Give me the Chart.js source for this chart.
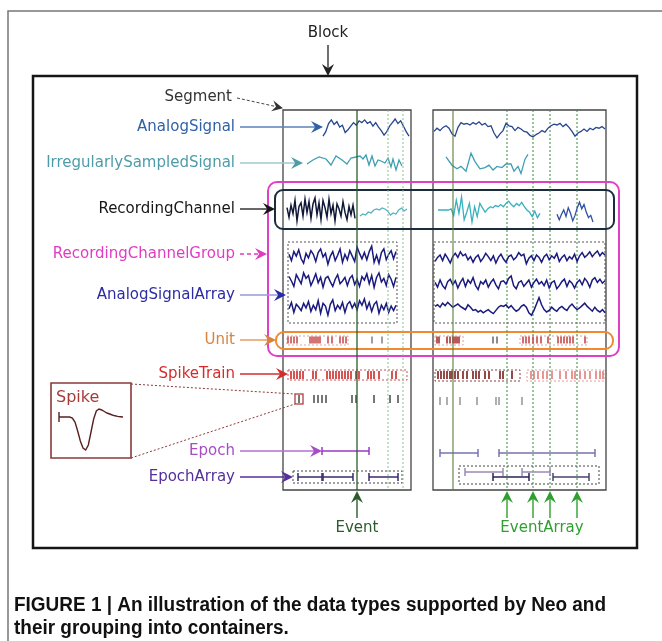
<!DOCTYPE html>
<html>
<head>
<meta charset="utf-8">
<script src="https://cdn.jsdelivr.net/npm/chart.js@4.4.0/dist/chart.umd.min.js"></script>
<style>
  html, body { margin: 0; padding: 0; background: #fff; }
  canvas { display: block; }
</style>
</head>
<body>
<canvas id="neo" width="662" height="641"></canvas>
<script>
// ---- data (times in seconds from the start of each segment, signal values in arbitrary units) ----
var labels = ['AnalogSignal', 'IrregularlySampledSignal', 'RecordingChannel', 'RecordingChannelGroup',
  'AnalogSignalArray', 'Unit', 'SpikeTrain', 'Epoch', 'EpochArray'];

var analogL = [-0.9,-0.4,0.5,0.9,0.4,0.7,0.1,0.3,-0.5,-0.2,0.2,0.6,0.3,0.8,0.6,0.9,0.5,0.7,0.2,0.6,0.1,-0.3,-0.8,-0.4,0.2,0.6,1.0,0.5,0.8,0.2,-0.4,-0.9];
var analogR = [-0.3,0.1,-0.2,0.2,0.4,0.1,-0.6,-0.9,0.2,0.8,0.6,0.7,0.5,0.8,0.6,0.9,0.5,0.7,0.3,0.4,-0.5,-1.1,-0.6,-0.2,0.7,0.4,0.3,-0.2,0.2,0.0,-0.3,-0.4,-0.8,-1.0,-0.7,-0.5,-0.2,-0.4,0.1,0.4,0.6,0.5,0.7,0.3,0.6,0.2,-0.3,-0.9,-0.5,-0.3,0.0,-0.3,0.1,-0.1,0.2,0.1,0.3,0.0];

var irregTimesL = [2.4,3.0,3.6,4.3,4.8,5.3,5.9,6.4,6.8,7.3,7.7,8.0,8.3,8.6,8.9,9.2,9.5,9.8,10.2,10.5,10.8,11.0,11.3,11.6,11.9];
var irregValsL = [-0.3,0.1,0.4,0.2,-0.4,0.5,0.1,-0.3,0.3,0.4,0.5,0.2,0.6,-0.4,0.5,-0.5,0.1,0.0,-0.2,0.3,-0.6,0.2,-0.9,0.1,-0.5];
var irregTimesR = [1.3,1.9,2.4,2.8,3.3,3.8,4.2,4.7,5.2,5.6,6.0,6.4,6.9,7.3,7.8,8.1,8.5,8.8,9.2,9.5];
var irregValsR = [0.6,-0.1,-0.4,-0.2,-0.6,0.9,0.2,-0.4,-0.3,-0.1,-0.5,-0.2,-0.3,0.0,0.0,-0.6,-0.2,-0.8,0.4,0.8];

var chanL1 = [0.2,-0.6,0.4,-0.3,0.8,-0.9,0.3,0.6,-0.5,0.9,-0.2,0.7,-0.7,0.5,1.0,-0.4,0.6,-0.8,0.8,0.2,-0.6,0.9,-0.3,0.4,-0.9,0.5,0.1,-0.5,0.7,-0.2,-0.8,0.3,-0.4,0.4,-0.7];
var chanL2 = [-0.4,-0.2,-0.3,0.0,-0.1,0.2,0.3,0.2,0.4,0.3,0.1,-0.3,-0.1,-0.2,0.2,0.4,0.1,0.3];
var chanR1 = [0,0,0,0,0,0.1,-0.5,0.9,-0.3,1.2,-0.9,-0.2,0.6,-1.1,0.3,-0.6,0.6,0.2,-0.2,0.1,0.3,0.2,0.4,0.3,0.5,0.3,0.6,0.8,0.5,0.3,0.6,0.4,0.7,0.3,0.0,-0.2,-0.6,-0.1,-0.7,-0.3];
var chanR2 = [-0.3,-0.8,-0.3,0.1,-0.5,0.3,-0.2,-0.9,-0.4,0.3,0.8,0.2,0.6,-0.1,-0.6,-0.4,-1.0];

var arrayL1 = [0.3,-0.4,0.6,0.1,0.8,-0.2,-0.7,0.4,-0.1,0.7,0.3,-0.5,0.5,0.9,0.0,0.4,-0.8,0.1,0.6,-0.4,0.2,0.9,-0.6,0.3,-0.3,0.7,0.1,-0.5,1.1,0.4,-0.2,0.5,-0.3,0.6,1.2,-0.6,0.2,-0.7,0.5,0.9,-0.3,0.3,0.7,-0.2,0.6];
var arrayL2 = [0.5,0.0,-0.6,0.7,0.2,-0.3,0.9,0.3,0.6,-0.5,0.1,0.8,-0.2,0.4,-0.7,0.3,0.5,-0.1,-0.6,0.2,0.7,-0.3,0.0,0.4,-0.5,0.3,0.6,-0.4,0.2,-0.6,0.5,0.1,0.8,-0.3,0.6,-0.7,0.4,0.9,-0.1,0.3,-0.5,0.7,0.2,-0.6,0.4];
var arrayL3 = [-0.2,0.5,-0.6,0.3,0.0,-0.4,0.4,-0.1,0.6,-0.5,0.2,-0.3,0.7,-0.7,0.4,0.1,-0.9,0.3,0.8,-0.4,0.2,-0.2,0.5,-0.6,0.3,0.6,-0.1,0.4,-0.3,0.7,0.2,0.9,-0.2,0.5,-0.5,0.3,0.6,-0.7,0.2,-0.3,0.4,-0.6,0.1,-0.4,0.2];
var arrayR1 = [-0.3,0.2,0.5,-0.2,0.6,0.1,-0.5,0.3,0.7,0.2,0.9,0.4,0.6,-0.1,0.3,-0.4,0.2,0.5,-0.3,0.1,0.7,0.3,-0.2,0.4,-0.5,0.2,0.6,0.0,-0.4,0.3,0.5,-0.1,0.2,0.8,0.4,0.6,-0.6,0.1,0.4,-0.2,0.5,0.2,-0.4,0.3,0.6,-0.1,0.4,0.1,0.7,-0.3,0.2,0.5,-0.2,0.3,0.0,0.6,-0.3,0.4,0.8,0.2,0.5,0.9,0.3,0.7,1.0,0.4,0.8,0.5];
var arrayR2 = [0.2,-0.4,0.5,-0.2,-0.6,0.3,0.6,-0.1,0.4,-0.5,0.2,0.7,-0.3,0.5,0.1,0.8,-0.2,-0.7,0.3,0.0,0.5,-0.4,0.2,0.6,-0.1,-0.6,0.3,0.4,0.0,0.7,1.0,-0.2,-0.6,0.2,0.4,-0.3,0.1,0.5,-0.4,0.2,0.6,0.0,0.3,-0.2,0.5,-0.5,0.2,0.4,-0.6,-0.2,0.3,0.6,-0.3,0.4,0.1,-0.5,0.2,0.5,-0.1,0.7,0.3,-0.4,0.5,0.8,0.2,0.6,0.1,0.4];
var arrayR3 = [0.2,0.4,0.1,0.6,0.3,0.7,0.4,0.1,0.3,0.5,0.2,0.0,-0.2,0.4,0.1,-0.3,-0.2,-0.5,-0.3,-0.6,-0.4,-0.2,-0.5,-0.7,-0.3,0.1,0.3,0.2,0.4,0.0,0.3,-0.1,-0.4,-0.2,0.2,0.4,0.1,-0.6,-0.9,-0.3,0.5,1.3,0.4,-0.2,-0.5,-0.3,0.1,-0.2,-0.4,0.0,0.2,-0.1,-0.3,0.2,0.5,0.1,-0.2,0.0,0.3,0.6,0.2,-0.1,-0.4,0.1,-0.3,-0.5,-0.2,-0.6];

var unitBoxedL = [0.5,0.8,1.1,1.4,2.7,2.9,3.1,3.3,3.5,3.7,4.5,4.9,5.7,6.0,6.3];
var unitLooseL = [8.9,9.9];
var unitBoxedR1 = [0.4,0.6,1.4,1.7,2.0,2.2,2.4,2.6];
var unitLooseR = [6.0,6.4];
var unitBoxedR2 = [9.0,9.3,9.6,10.0,10.4,10.8,11.5,12.5,12.8,13.1,13.4,13.7,14.0,15.2];

var trainL = [0.8,1.1,1.4,1.7,2.0,3.0,3.3,4.4,4.7,5.0,5.3,5.6,5.9,6.2,6.5,6.8,7.3,7.6,8.5,8.8,9.1,9.6,10.9,11.3];
var trainR1 = [0.5,0.8,1.1,1.4,1.7,1.9,2.2,2.5,3.0,3.4,4.0,4.3,4.6,5.2,5.6,6.7,7.0,7.9];
var trainR2 = [9.8,10.1,10.5,11.0,11.4,11.9,12.7,13.3,13.9,14.2,14.7,15.2,15.7,16.3,16.7,17.0];

var spikesL = [3.1,3.5,3.9,4.3,6.9,7.3,9.1,10.7,11.5];
var spikeShown = 1.6;
var spikesR = [0.7,1.4,2.7,4.4,6.3,6.6,8.9];
var spikeWave = [0,0,0,0,0,-0.1,-0.5,-1.4,-2.4,-3.1,-3.3,-2.8,-1.5,-0.2,0.6,0.8,0.7,0.55,0.4,0.3,0.2,0.12,0.06,0.03,0.0];

var epochL = [3.9, 8.6];
var epochR = [[0.7, 4.5], [6.6, 16.2]];
var epochArrayL = [[1.5, 3.9], [4.0, 7.0], [8.6, 11.5]];
var epochArrayR = [[3.2, 7.0], [6.0, 9.6], [8.9, 11.7], [12.0, 15.6]];

var eventL = 7.4;
var markersL = [10.5, 12.0];
var markerR = 2.0;
var eventArrayR = [7.4, 10.0, 11.7, 14.4];

// ---- layout ----
var PX_PER_S = 10;
var SEG_L = 283, SEG_R = 433;
var SEG_TOP = 110, SEG_BOT = 490;

function regular(vals, x0, x1, yc, amp) {
  return vals.map(function (v, i) {
    return { x: x0 + i * (x1 - x0) / (vals.length - 1), y: yc - v * amp };
  });
}
function irregular(times, vals, seg, yc, amp) {
  return times.map(function (t, i) { return { x: seg + t * PX_PER_S, y: yc - vals[i] * amp }; });
}
function atTimes(times, seg, y) {
  return times.map(function (t) { return { x: seg + t * PX_PER_S, y: y }; });
}
function trace(data, color, width) {
  return { data: data, showLine: true, borderColor: color, borderWidth: width || 1.3, pointRadius: 0, tension: 0 };
}
function ticks(data, color, r) {
  return { data: data, showLine: false, pointStyle: 'line', rotation: 90, pointRadius: r,
    pointBorderColor: color, pointBorderWidth: 1.6, borderColor: color };
}
function span(pair, seg, y, color) {
  return { data: atTimes(pair, seg, y), showLine: true, borderColor: color, borderWidth: 1.5,
    pointStyle: 'line', rotation: 90, pointRadius: 4, pointBorderColor: color, pointBorderWidth: 1.5 };
}
function vline(t, seg, color, dash, width) {
  return { data: [{ x: seg + t * PX_PER_S, y: SEG_TOP }, { x: seg + t * PX_PER_S, y: SEG_BOT }], showLine: true,
    borderColor: color, borderWidth: width || 1, borderDash: dash || [], pointRadius: 0 };
}

var datasets = [
  vline(eventL, SEG_L, '#2c5c2c', [], 1.3),
  vline(markersL[0], SEG_L, '#86c486', [2, 2]),
  vline(markersL[1], SEG_L, '#86c486', [2, 2]),
  vline(markerR, SEG_R, '#5d7d3d', [], 1.1),
  trace(regular(analogL, 323, 409, 128, 9), '#26468e'),
  trace(regular(analogR, 434, 605, 129, 8), '#26468e'),
  trace(irregular(irregTimesL, irregValsL, SEG_L, 161, 10), '#3f9fb2'),
  trace(irregular(irregTimesR, irregValsR, SEG_R, 164, 12), '#3f9fb2'),
  trace(regular(chanL1, 287, 355, 210, 12), '#101838', 1.5),
  trace(regular(chanL2, 360, 407, 212, 10), '#56b2c2'),
  trace(regular(chanR1, 438, 540, 210, 11), '#38b0c0'),
  trace(regular(chanR2, 557, 593, 211, 11), '#3050a4'),
  trace(regular(arrayL1, 289, 396, 257, 9), '#1a1a7e', 1.5),
  trace(regular(arrayL2, 289, 396, 281, 9), '#1a1a7e', 1.5),
  trace(regular(arrayL3, 289, 396, 307, 9), '#1a1a7e', 1.5),
  trace(regular(arrayR1, 435, 605, 259, 8), '#1a1a7e', 1.5),
  trace(regular(arrayR2, 435, 605, 284, 8), '#1a1a7e', 1.5),
  trace(regular(arrayR3, 435, 605, 308, 8), '#1a1a7e', 1.5),
  ticks(atTimes(unitBoxedL, SEG_L, 340), '#c85050', 3.5),
  ticks(atTimes(unitLooseL, SEG_L, 340), '#8a8a8a', 3.5),
  ticks(atTimes(unitBoxedR1, SEG_R, 340), '#a83030', 3.5),
  ticks(atTimes(unitLooseR, SEG_R, 340), '#707070', 3.5),
  ticks(atTimes(unitBoxedR2, SEG_R, 340), '#c84848', 3.5),
  ticks(atTimes(trainL, SEG_L, 375), '#cc2a2a', 4),
  ticks(atTimes(trainR1, SEG_R, 375), '#7a1c1c', 4),
  ticks(atTimes(trainR2, SEG_R, 375), '#e27a7a', 4),
  ticks(atTimes(spikesL.concat([spikeShown]), SEG_L, 399), '#555555', 4),
  ticks(atTimes(spikesR, SEG_R, 401), '#9a9a9a', 4),
  trace(regular(spikeWave, 59, 123, 417, 10), '#5a2020', 1.4),
  span(epochL, SEG_L, 451, '#9a38c4'),
  span(epochR[0], SEG_R, 453, '#7474b4'),
  span(epochR[1], SEG_R, 453, '#7a70aa'),
  span(epochArrayL[0], SEG_L, 477, '#3a2a6a'),
  span(epochArrayL[1], SEG_L, 477, '#3a2a6a'),
  span(epochArrayL[2], SEG_L, 477, '#3a2a6a'),
  span(epochArrayR[0], SEG_R, 472, '#9a8ab4'),
  span(epochArrayR[1], SEG_R, 477, '#2a2250'),
  span(epochArrayR[2], SEG_R, 472, '#9a8ab4'),
  span(epochArrayR[3], SEG_R, 477, '#4a4070')
];
eventArrayR.forEach(function (t) { datasets.push(vline(t, SEG_R, '#3a8a3a', [2, 2])); });

var labelStyle = [
  { y: 127, tip: 323, text: '#2f62a6', line: '#5a82b8' },
  { y: 163, tip: 303, text: '#4f9ca8', line: '#9cc8d0' },
  { y: 209, tip: 275, text: '#161616', line: '#161616' },
  { y: 254, tip: 267, text: '#e03cc0', line: '#e03cc0', dash: true },
  { y: 295, tip: 286, text: '#2b2ba6', line: '#9a9ad8' },
  { y: 340, tip: 276, text: '#d8833c', line: '#e0904a' },
  { y: 374, tip: 288, text: '#d42c2c', line: '#d42c2c' },
  { y: 451, tip: 322, text: '#a64cc6', line: '#b070d0' },
  { y: 477, tip: 293, text: '#56309a', line: '#56309a' }
];

function head(ctx, x, y, ang, size, color) {
  ctx.save();
  ctx.translate(x, y);
  ctx.rotate(ang);
  ctx.fillStyle = color;
  ctx.beginPath();
  ctx.moveTo(0, 0);
  ctx.lineTo(-size, -size * 0.5);
  ctx.lineTo(-size * 0.65, 0);
  ctx.lineTo(-size, size * 0.5);
  ctx.closePath();
  ctx.fill();
  ctx.restore();
}

var diagram = {
  id: 'diagram',
  beforeDatasetsDraw: function (chart) {
    var ctx = chart.ctx, sx = chart.scales.x, sy = chart.scales.y;
    var X = function (v) { return sx.getPixelForValue(v); };
    var Y = function (v) { return sy.getPixelForValue(v); };
    function box(x0, y0, x1, y1, color, lw, dash, radius) {
      ctx.save();
      ctx.strokeStyle = color;
      ctx.lineWidth = lw;
      ctx.setLineDash(dash || []);
      ctx.beginPath();
      if (radius) ctx.roundRect(X(x0), Y(y0), X(x1) - X(x0), Y(y1) - Y(y0), radius);
      else ctx.rect(X(x0), Y(y0), X(x1) - X(x0), Y(y1) - Y(y0));
      ctx.stroke();
      ctx.restore();
    }
    ctx.save();
    ctx.fillStyle = '#fff';
    ctx.fillRect(0, 0, chart.width, chart.height);
    // figure frame
    ctx.strokeStyle = '#777';
    ctx.lineWidth = 1.5;
    ctx.beginPath();
    ctx.moveTo(X(8), Y(641)); ctx.lineTo(X(8), Y(11)); ctx.lineTo(X(662), Y(11));
    ctx.stroke();
    ctx.restore();
    box(33, 76, 637, 548, '#151515', 2.5);
    box(SEG_L, SEG_TOP, 411, SEG_BOT, '#444', 1.3);
    box(SEG_R, SEG_TOP, 606, SEG_BOT, '#444', 1.3);
    box(268, 182, 619, 356, '#e040c8', 2, null, 9);
    box(275, 190, 614, 229, '#1b2d3c', 2, null, 8);
    box(276, 332, 613, 349, '#f08a30', 2, null, 8);
    box(288, 242, 397, 323, '#555', 1, [2, 2]);
    box(434, 242, 605, 323, '#555', 1, [2, 2]);
    box(287, 336, 348, 345, '#dba0a0', 1, [2, 2]);
    box(435, 336, 463, 345, '#dba0a0', 1, [2, 2]);
    box(520, 336, 587, 345, '#dba0a0', 1, [2, 2]);
    box(288, 370, 407, 380, '#d05050', 1, [2, 2]);
    box(435, 370, 520, 381, '#8a4040', 1, [2, 2]);
    box(527, 370, 604, 381, '#e49a9a', 1, [2, 2]);
    box(293, 471, 402, 483, '#444', 1, [2, 2]);
    box(459, 466, 599, 484, '#444', 1, [2, 2]);
    box(51, 383, 131, 458, '#8b3a3a', 1.6);
  },
  afterDatasetsDraw: function (chart) {
    var ctx = chart.ctx, sx = chart.scales.x, sy = chart.scales.y;
    var X = function (v) { return sx.getPixelForValue(v); };
    var Y = function (v) { return sy.getPixelForValue(v); };
    ctx.save();
    ctx.font = '15px "DejaVu Sans"';
    ctx.textBaseline = 'middle';

    // side labels and their arrows
    labels.forEach(function (name, i) {
      var s = labelStyle[i];
      ctx.fillStyle = s.text;
      ctx.textAlign = 'right';
      ctx.fillText(name, X(235), Y(s.y));
      ctx.strokeStyle = s.line;
      ctx.lineWidth = 1.3;
      ctx.setLineDash(s.dash ? [4, 3] : []);
      ctx.beginPath();
      ctx.moveTo(X(240), Y(s.y));
      ctx.lineTo(X(s.tip) - 6, Y(s.y));
      ctx.stroke();
      ctx.setLineDash([]);
      head(ctx, X(s.tip), Y(s.y), 0, 12, s.text);
    });

    // Block
    ctx.fillStyle = '#222';
    ctx.textAlign = 'center';
    ctx.fillText('Block', X(328), Y(33));
    ctx.strokeStyle = '#222';
    ctx.lineWidth = 1.3;
    ctx.beginPath(); ctx.moveTo(X(328), Y(45)); ctx.lineTo(X(328), Y(70)); ctx.stroke();
    head(ctx, X(328), Y(76), Math.PI / 2, 12, '#222');

    // Segment
    ctx.fillStyle = '#333';
    ctx.textAlign = 'right';
    ctx.fillText('Segment', X(232), Y(97));
    ctx.strokeStyle = '#444';
    ctx.lineWidth = 1;
    ctx.setLineDash([3, 2]);
    ctx.beginPath(); ctx.moveTo(X(237), Y(98)); ctx.lineTo(X(278), Y(107)); ctx.stroke();
    ctx.setLineDash([]);
    head(ctx, X(283), Y(108.2), Math.atan2(10, 46), 11, '#333');

    // Spike inset
    ctx.fillStyle = '#a83a3a';
    ctx.textAlign = 'left';
    ctx.font = '16px "DejaVu Sans"';
    ctx.fillText('Spike', X(56), Y(398));
    ctx.font = '15px "DejaVu Sans"';
    ctx.strokeStyle = '#5a2020';
    ctx.lineWidth = 1.4;
    ctx.beginPath(); ctx.moveTo(X(59), Y(412)); ctx.lineTo(X(59), Y(422)); ctx.stroke();
    var hx = SEG_L + spikeShown * PX_PER_S;
    ctx.strokeStyle = '#a83030';
    ctx.lineWidth = 1.2;
    ctx.strokeRect(X(hx - 4), Y(394), X(hx + 4) - X(hx - 4), Y(404) - Y(394));
    ctx.strokeStyle = '#8b3a3a';
    ctx.lineWidth = 1;
    ctx.setLineDash([2, 2]);
    ctx.beginPath();
    ctx.moveTo(X(131), Y(384)); ctx.lineTo(X(hx - 4), Y(394));
    ctx.moveTo(X(131), Y(458)); ctx.lineTo(X(hx - 4), Y(404));
    ctx.stroke();
    ctx.setLineDash([]);

    // Event / EventArray arrows
    function upArrow(x, color) {
      ctx.strokeStyle = color;
      ctx.lineWidth = 1.4;
      ctx.beginPath(); ctx.moveTo(X(x), Y(518)); ctx.lineTo(X(x), Y(497)); ctx.stroke();
      head(ctx, X(x), Y(491), -Math.PI / 2, 12, color);
    }
    upArrow(SEG_L + eventL * PX_PER_S, '#2c5c2c');
    eventArrayR.forEach(function (t) { upArrow(SEG_R + t * PX_PER_S, '#2fa02f'); });
    ctx.textAlign = 'center';
    ctx.fillStyle = '#2c5c2c';
    ctx.fillText('Event', X(SEG_L + eventL * PX_PER_S), Y(528));
    ctx.fillStyle = '#2fa02f';
    ctx.fillText('EventArray', X(542), Y(528));

    // caption
    var lines = ['FIGURE 1 | An illustration of the data types supported by Neo and',
      'their grouping into containers.'];
    ctx.font = 'bold 20px "Liberation Sans", Arial, sans-serif';
    ctx.textAlign = 'left';
    ctx.textBaseline = 'alphabetic';
    ctx.fillStyle = '#111';
    var k = 592 / ctx.measureText(lines[0]).width;
    [611, 634].forEach(function (y, i) {
      ctx.save();
      ctx.translate(X(14), Y(y));
      ctx.scale(k, 1);
      ctx.fillText(lines[i], 0, 0);
      ctx.restore();
    });
    ctx.restore();
  }
};

new Chart(document.getElementById('neo').getContext('2d'), {
  type: 'scatter',
  data: { datasets: datasets },
  options: {
    responsive: false,
    animation: false,
    events: [],
    layout: { padding: 0, autoPadding: false },
    plugins: { legend: { display: false }, tooltip: { enabled: false } },
    scales: {
      x: { type: 'linear', min: 0, max: 662, display: false },
      y: { type: 'linear', min: 0, max: 641, reverse: true, display: false }
    }
  },
  plugins: [diagram]
});
</script>
</body>
</html>
